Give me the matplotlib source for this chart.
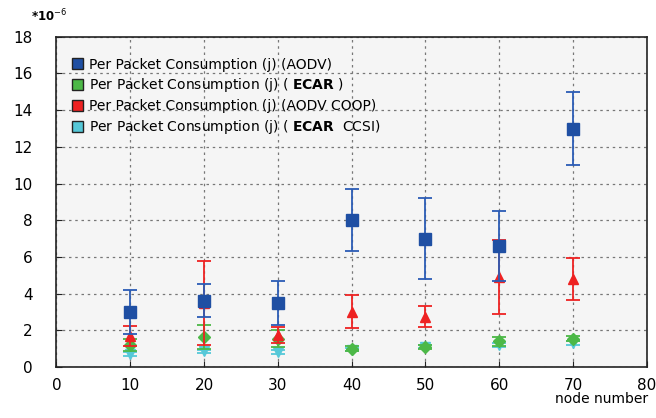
import numpy as np
import matplotlib.pyplot as plt
from matplotlib.patches import Patch

plt.rcParams['font.family'] = 'DejaVu Sans'

# dados (valores em 1e-6 J)
nodes = [10, 20, 30, 40, 50, 60, 70]

aodv = [3.0, 3.6, 3.5, 8.0, 7.0, 6.6, 13.0]
aodv_err = [1.2, 0.9, 1.2, 1.7, 2.2, 1.9, 2.0]

ecar = [1.2, 1.65, 1.55, 1.0, 1.1, 1.4, 1.55]
ecar_err = [0.35, 0.65, 0.45, 0.12, 0.1, 0.25, 0.15]

aodv_coop = [1.7, 3.5, 1.75, 3.0, 2.75, 4.9, 4.8]
aodv_coop_err = [0.55, 2.3, 0.45, 0.9, 0.55, 2.0, 1.15]

ecar_ccsi = [0.7, 0.85, 0.8, 0.95, 1.1, 1.2, 1.3]
ecar_ccsi_err = [0.1, 0.1, 0.1, 0.1, 0.08, 0.1, 0.1]

c_blue = '#1f4fa3'
c_green = '#4cb847'
c_red = '#ee2222'
c_cyan = '#55c8d8'

fig = plt.figure(figsize=(6.56, 4.18), dpi=100)
ax = fig.add_axes([0.086, 0.122, 0.9, 0.79])
ax.set_facecolor('#f5f5f5')

kw = dict(capsize=5, elinewidth=1.3, capthick=1.3, linestyle='none')
ax.errorbar(nodes, ecar_ccsi, yerr=ecar_ccsi_err, fmt='v', color=c_cyan,
            markersize=7, zorder=3, **kw)
ax.errorbar(nodes, ecar, yerr=ecar_err, fmt='D', color=c_green,
            markersize=6, zorder=4, **kw)
ax.errorbar(nodes, aodv_coop, yerr=aodv_coop_err, fmt='^', color=c_red,
            markersize=7, zorder=5, **kw)
ax.errorbar(nodes, aodv, yerr=aodv_err, fmt='s', color=c_blue,
            ecolor='#2b5cb5', markersize=8, zorder=6, **kw)

ax.set_xlim(0, 80)
ax.set_ylim(0, 18)
ax.set_xticks(range(0, 81, 10))
ax.set_yticks(range(0, 19, 2))
ax.tick_params(direction='in', length=4, labelsize=11, color='#222222')
ax.tick_params(axis='y', pad=17)
ax.tick_params(axis='x', pad=8)
ax.grid(True, linestyle=(0, (2, 3)), color='#777777', linewidth=0.9)
for s in ax.spines.values():
    s.set_color('#222222')
    s.set_linewidth(1.2)

fig.text(0.047, 0.948, r'*10$^{-6}$', fontsize=8.5, fontweight='bold')
fig.text(0.988, 0.035, 'node number', fontsize=10, ha='right')

handles = [
    Patch(facecolor=c_blue, edgecolor='#222222'),
    Patch(facecolor=c_green, edgecolor='#222222'),
    Patch(facecolor=c_red, edgecolor='#222222'),
    Patch(facecolor=c_cyan, edgecolor='#222222'),
]
labels = [
    'Per Packet Consumption (j) (AODV)',
    r'Per Packet Consumption (j) ( $\mathbf{ECAR}$ )',
    'Per Packet Consumption (j) (AODV COOP)',
    r'Per Packet Consumption (j) ( $\mathbf{ECAR}$  CCSI)',
]
ax.legend(handles, labels, loc='upper left', frameon=False, fontsize=10,
          handlelength=0.8, handleheight=0.8, handletextpad=0.4,
          labelspacing=0.35, bbox_to_anchor=(0.005, 0.975))

plt.savefig('out.png', dpi=100)
